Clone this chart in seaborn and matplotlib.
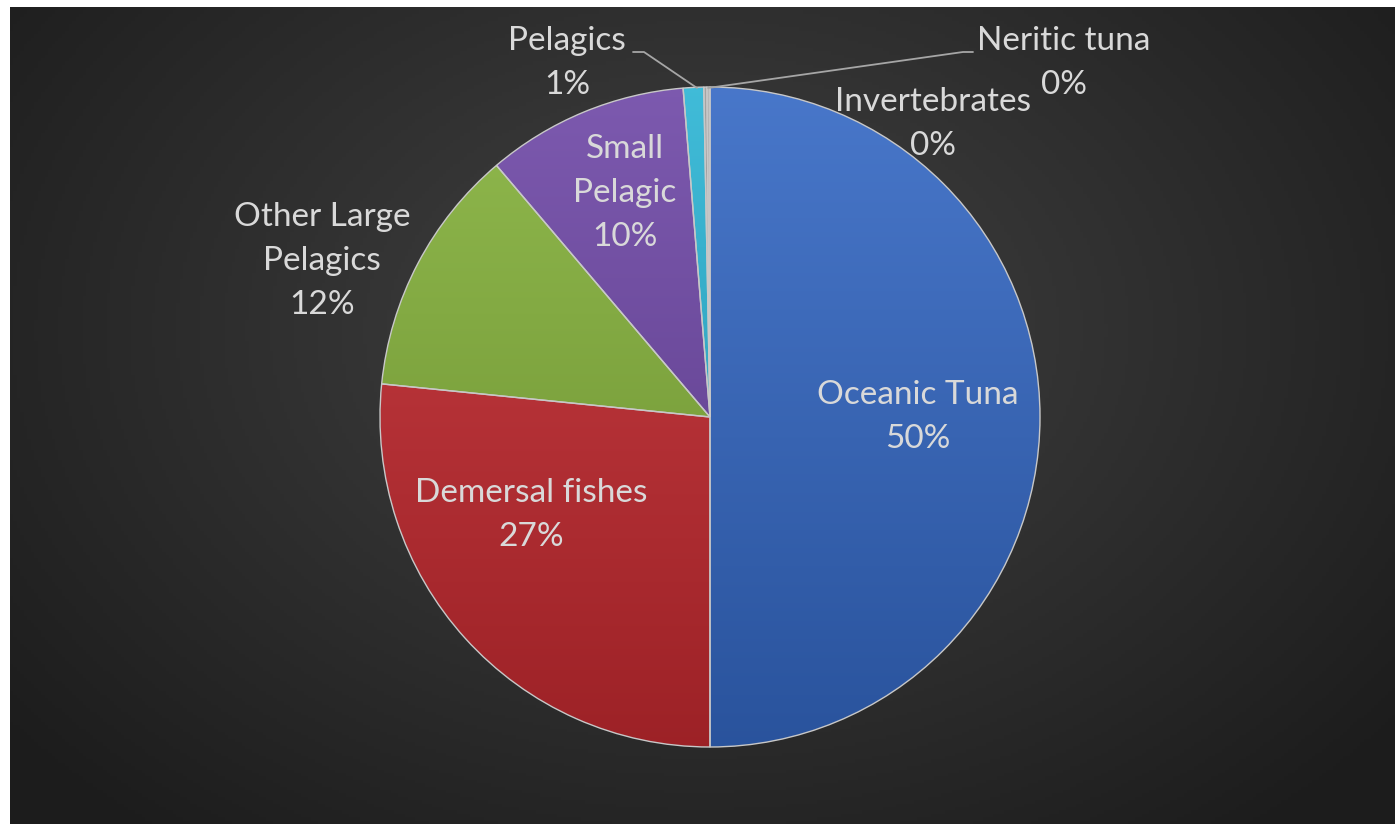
import numpy as np
import matplotlib
matplotlib.use("Agg")
import matplotlib.pyplot as plt
import seaborn as sns
from matplotlib.colors import to_rgb

# ---- data ----
categories = ["Oceanic Tuna", "Demersal fishes", "Other Large Pelagics",
              "Small Pelagic", "Pelagics", "Invertebrates", "Neritic tuna"]
values = [50.0, 26.6, 12.2, 9.9, 1.0, 0.15, 0.15]
pct_labels = ["50%", "27%", "12%", "10%", "1%", "0%", "0%"]
label_text = ["Oceanic Tuna", "Demersal fishes", "Other Large\nPelagics",
              "Small\nPelagic", "Pelagics", "Invertebrates", "Neritic tuna"]
colors = ["#3468c4", "#c42a30", "#84b13a", "#6e47a6", "#2bb4d4", "#9a9a9a", "#b0b0b0"]

sns.set_theme(style="dark")
plt.rcParams['font.family'] = ['Lato', 'DejaVu Sans']

W, H = 1395, 824
fig = plt.figure(figsize=(W / 100, H / 100), dpi=100)
fig.patch.set_facecolor("white")
ax = fig.add_axes([0, 0, 1, 1])

def Y(y):
    return H - y

# background radial gradient
gx, gy = np.meshgrid(np.linspace(10, W, 400), np.linspace(0, H - 7, 240))
cx, cy = 700, Y(330)
d = np.sqrt(((gx - cx) / 900) ** 2 + ((gy - cy) / 650) ** 2)
d = np.clip(d, 0, 1)
c_in = np.array([0.26, 0.26, 0.26])
c_out = np.array([0.11, 0.11, 0.11])
bg = c_in[None, None, :] * (1 - d[..., None]) + c_out[None, None, :] * d[..., None]
ax.imshow(bg, extent=(10, W, 0, H - 7), origin="lower", zorder=0, aspect="auto")

PCX, PCY, R = 710, Y(417), 330
wedges, _ = ax.pie(values, colors=colors, startangle=90, counterclock=False,
                   center=(PCX, PCY), radius=R,
                   wedgeprops=dict(edgecolor="#c8c8c8", linewidth=1.0))

# vertical shading inside each wedge
ys = np.linspace(0, 1, 256)[:, None]
for w, c in zip(wedges, colors):
    base = np.array(to_rgb(c))
    top = base + (1 - base) * 0.10
    bot = base * 0.80
    img = top[None, None, :] * (1 - ys[..., None]) + bot[None, None, :] * ys[..., None]
    img = np.repeat(img, 2, axis=1)
    im = ax.imshow(img, extent=(PCX - R, PCX + R, PCY - R, PCY + R), origin="upper",
                   zorder=w.get_zorder() + 0.1, aspect="auto")
    im.set_clip_path(w)
    w.set_facecolor("none")
    w.set_zorder(w.get_zorder() + 0.2)

txt = dict(color="#d9d9d9", fontsize=24, ha="center", va="center", linespacing=1.58, zorder=10)
ax.text(918, Y(417), f"{label_text[0]}\n{pct_labels[0]}", **txt)
ax.text(531, Y(515), f"{label_text[1]}\n{pct_labels[1]}", **txt)
ax.text(322, Y(261), f"{label_text[2]}\n{pct_labels[2]}", **txt)
ax.text(625, Y(193), f"{label_text[3]}\n{pct_labels[3]}", **txt)
ax.text(567, Y(63), f"{label_text[4]}\n{pct_labels[4]}", **txt)
ax.text(933, Y(124), f"{label_text[5]}\n{pct_labels[5]}", **txt)
ax.text(1064, Y(63), f"{label_text[6]}\n{pct_labels[6]}", **txt)

# leader lines
ax.plot([633, 644, 697], [Y(52), Y(52), Y(88)], color="#a6a6a6", lw=1.3, zorder=9)
ax.plot([708, 963, 973], [Y(88), Y(52), Y(52)], color="#a6a6a6", lw=1.3, zorder=9)

ax.set_xlim(0, W)
ax.set_ylim(0, H)
ax.axis("off")
fig.savefig("out.png", dpi=100, facecolor=fig.get_facecolor())
